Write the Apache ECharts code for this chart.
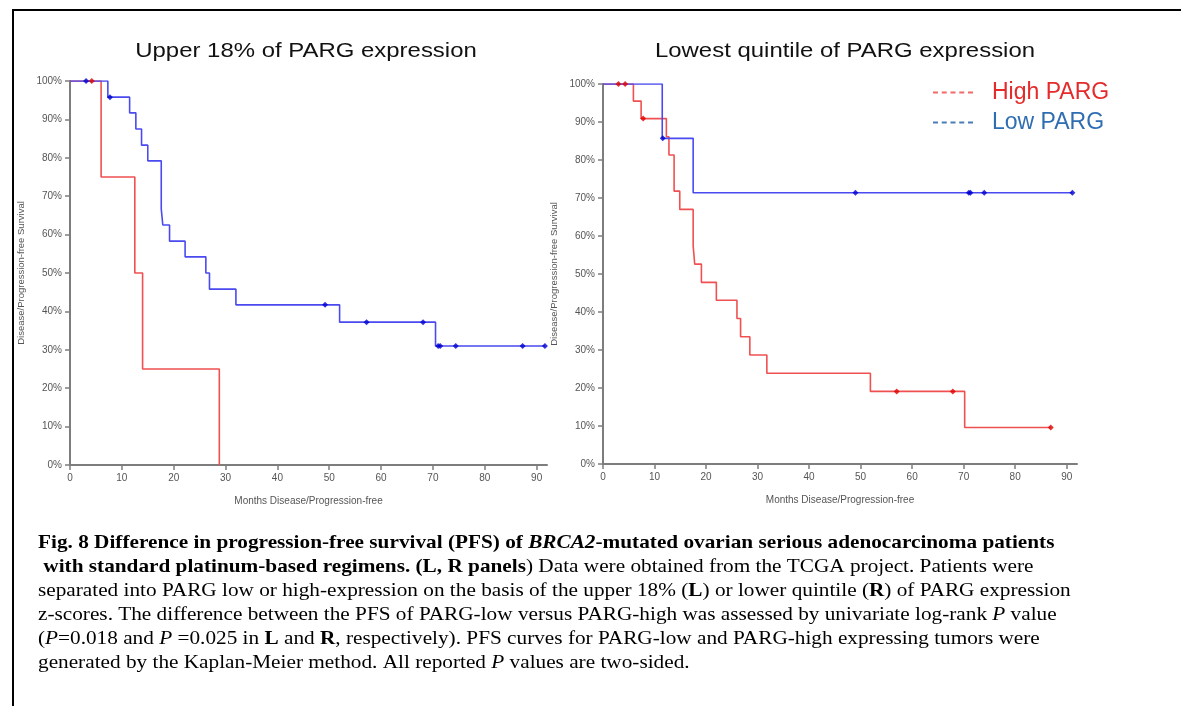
<!DOCTYPE html>
<html>
<head>
<meta charset="utf-8">
<script src="https://cdn.jsdelivr.net/npm/echarts@6/dist/echarts.min.js"></script>
<style>
  html, body { margin: 0; padding: 0; background: #fff; }
  #main { width: 1181px; height: 706px; }
</style>
</head>
<body>
<div id="main"></div>
<script>
// panel titles
var panelTitles = ['Upper 18% of PARG expression', 'Lowest quintile of PARG expression'];
var xTicks = [0, 10, 20, 30, 40, 50, 60, 70, 80, 90];

// left panel (upper 18%): event months and survival (%) after each drop
var leftLowTimes = [0, 7.3, 11.5, 12.7, 13.8, 15.0, 17.6, 17.9, 19.2, 22.2, 26.2, 26.9, 32.0, 52.0, 70.5, 91.6];
var leftLowSurv = [100, 95.8, 91.7, 87.5, 83.3, 79.2, 66.7, 62.5, 58.3, 54.2, 50.0, 45.8, 41.7, 37.2, 31.0, 31.0];
var leftLowCensor = [3.1, 7.7, 49.2, 57.2, 68.1, 71.0, 71.4, 74.4, 87.3, 91.6];
var leftHighTimes = [0, 6.0, 12.5, 14.0, 28.8];
var leftHighSurv = [100, 75, 50, 25, 0];
var leftHighCensor = [4.2];

// right panel (lowest quintile)
var rightHighTimes = [0, 5.9, 7.4, 12.3, 12.8, 13.8, 14.9, 17.5, 17.8, 19.1, 22.0, 26.0, 26.7, 28.5, 31.8, 51.9, 70.2, 86.9];
var rightHighSurv = [100, 95.5, 90.9, 86.1, 81.3, 71.8, 67.0, 57.4, 52.6, 47.8, 43.1, 38.3, 33.5, 28.7, 23.9, 19.1, 9.6, 9.6];
var rightHighCensor = [3.0, 4.3, 7.8, 57.0, 67.9, 86.9];
var rightLowTimes = [0, 11.5, 17.5, 91.1];
var rightLowSurv = [100, 85.7, 71.4, 71.4];
var rightLowCensor = [11.6, 49.0, 71.0, 71.3, 74.0, 91.1];

// caption lines (rich text segments)
var captionLines = [
  '{b|Fig. 8 Difference in progression-free survival (PFS) of }{bi|BRCA2}{b|-mutated ovarian serious adenocarcinoma patients}',
  '{b| with standard platinum-based regimens. (L, R panels}{n|) Data were obtained from the TCGA project. Patients were}',
  '{n|separated into PARG low or high-expression on the basis of the upper 18% (}{b|L}{n|) or lower quintile (}{b|R}{n|) of PARG expression}',
  '{n|z-scores. The difference between the PFS of PARG-low versus PARG-high was assessed by univariate log-rank }{i|P}{n| value}',
  '{n|(}{i|P}{n|=0.018 and }{i|P}{n| =0.025 in }{b|L}{n| and }{b|R}{n|, respectively). PFS curves for PARG-low and PARG-high expressing tumors were}',
  '{n|generated by the Kaplan-Meier method. All reported }{i|P}{n| values are two-sided.}'
];

var RED = '#f05050', BLUE = '#4a4af0';
// "-----" legend mark
var dashIcon = 'path://M0,0h5v2h-5z M8.75,0h5v2h-5z M17.5,0h5v2h-5z M26.25,0h5v2h-5z M35,0h5v2h-5z';

// turn KM drops into a stair path
function stepLine(times, surv) {
  var pts = [[times[0], surv[0]]];
  for (var i = 1; i < times.length; i++) {
    pts.push([times[i], surv[i - 1]]);
    pts.push([times[i], surv[i]]);
  }
  return pts;
}
function survAt(times, surv, t) {
  var v = surv[0];
  for (var i = 0; i < times.length; i++) {
    if (times[i] <= t) v = surv[i];
  }
  return v;
}
function censorPts(times, surv, cens) {
  return cens.map(function (t) { return [t, survAt(times, surv, t)]; });
}

var chart = echarts.init(document.getElementById('main'));

var axisGray = '#7d7d7d';
function xAxisFor(idx) {
  return {
    type: 'value', gridIndex: idx, min: 0, max: 92, interval: 10,
    name: 'Months Disease/Progression-free', nameLocation: 'middle', nameGap: 31,
    nameTextStyle: { fontSize: 10, color: '#555', fontFamily: 'Liberation Sans' },
    axisLine: { lineStyle: { color: axisGray, width: 2 } },
    axisTick: { length: 5, lineStyle: { color: axisGray, width: 1.5 }, customValues: xTicks },
    axisLabel: { fontSize: 10, color: '#555', margin: 8, fontFamily: 'Liberation Sans', customValues: xTicks },
    splitLine: { show: false }
  };
}
function yAxisFor(idx) {
  return {
    type: 'value', gridIndex: idx, min: 0, max: 100, interval: 10,
    name: 'Disease/Progression-free Survival', nameLocation: 'middle', nameGap: 44,
    nameTextStyle: { fontSize: 9.5, color: '#555', fontFamily: 'Liberation Sans' },
    axisLine: { lineStyle: { color: axisGray, width: 2 } },
    axisTick: { length: 5, lineStyle: { color: axisGray, width: 1.5 } },
    axisLabel: { fontSize: 10, color: '#555', margin: 8, formatter: '{value}%', fontFamily: 'Liberation Sans' },
    splitLine: { show: false }
  };
}
function kmLine(name, idx, color, times, surv) {
  return {
    name: name, type: 'line', xAxisIndex: idx, yAxisIndex: idx,
    data: stepLine(times, surv), symbol: 'none', silent: true,
    lineStyle: { color: color, width: 1.6 }, itemStyle: { color: color }
  };
}
function censorSeries(name, idx, color, times, surv, cens) {
  return {
    name: name, type: 'scatter', xAxisIndex: idx, yAxisIndex: idx,
    data: censorPts(times, surv, cens), symbol: 'diamond', symbolSize: 6,
    itemStyle: { color: color }, z: 5
  };
}

var captionFont = 'Liberation Serif';
var option = {
  backgroundColor: '#fff',
  animation: false,
  grid: [
    { left: 70, top: 81, width: 477, height: 384 },
    { left: 603, top: 84, width: 474, height: 380 }
  ],
  xAxis: [xAxisFor(0), xAxisFor(1)],
  yAxis: [yAxisFor(0), yAxisFor(1)],
  legend: {
    orient: 'vertical', left: 928, top: 76, itemWidth: 40, itemHeight: 2, itemGap: 7,
    selectedMode: false,
    textStyle: { fontSize: 23, fontFamily: 'Liberation Sans', padding: [0, 0, 0, 14] },
    data: [
      { name: 'High PARG', icon: dashIcon, itemStyle: { color: '#f06a6a' }, textStyle: { color: '#e52a2a' } },
      { name: 'Low PARG', icon: dashIcon, itemStyle: { color: '#4a7db5' }, textStyle: { color: '#2f6db3' } }
    ]
  },
  series: [
    kmLine('High PARG', 0, RED, leftHighTimes, leftHighSurv),
    kmLine('Low PARG', 0, BLUE, leftLowTimes, leftLowSurv),
    kmLine('High PARG', 1, RED, rightHighTimes, rightHighSurv),
    kmLine('Low PARG', 1, BLUE, rightLowTimes, rightLowSurv),
    censorSeries('High censored', 0, '#e00000', leftHighTimes, leftHighSurv, leftHighCensor),
    censorSeries('Low censored', 0, '#0000d0', leftLowTimes, leftLowSurv, leftLowCensor),
    censorSeries('High censored', 1, '#e00000', rightHighTimes, rightHighSurv, rightHighCensor),
    censorSeries('Low censored', 1, '#0000d0', rightLowTimes, rightLowSurv, rightLowCensor)
  ],
  graphic: [
    {
      type: 'rect', silent: true,
      shape: { x: 13, y: 10, width: 1200, height: 760 },
      style: { fill: 'none', stroke: '#000', lineWidth: 2 }
    },
    {
      type: 'text', x: 306, y: 51, scaleX: 1.14,
      style: { text: panelTitles[0], fontSize: 21, fontFamily: 'Liberation Sans', fill: '#111',
        textAlign: 'center', textVerticalAlign: 'middle' }
    },
    {
      type: 'text', x: 845, y: 51, scaleX: 1.14,
      style: { text: panelTitles[1], fontSize: 21, fontFamily: 'Liberation Sans', fill: '#111',
        textAlign: 'center', textVerticalAlign: 'middle' }
    },
    {
      type: 'text', x: 38, y: 531, scaleX: 1.09,
      style: {
        text: captionLines.join('\n'),
        fontSize: 19.5, fontFamily: captionFont, fill: '#000',
        textAlign: 'left', textVerticalAlign: 'top', lineHeight: 24,
        rich: {
          n: { fontSize: 19.5, fontFamily: captionFont, lineHeight: 24, fill: '#000' },
          b: { fontSize: 19.5, fontFamily: captionFont, fontWeight: 'bold', lineHeight: 24, fill: '#000' },
          i: { fontSize: 19.5, fontFamily: captionFont, fontStyle: 'italic', lineHeight: 24, fill: '#000' },
          bi: { fontSize: 19.5, fontFamily: captionFont, fontWeight: 'bold', fontStyle: 'italic', lineHeight: 24, fill: '#000' }
        }
      }
    }
  ]
};
chart.setOption(option);
</script>
</body>
</html>
